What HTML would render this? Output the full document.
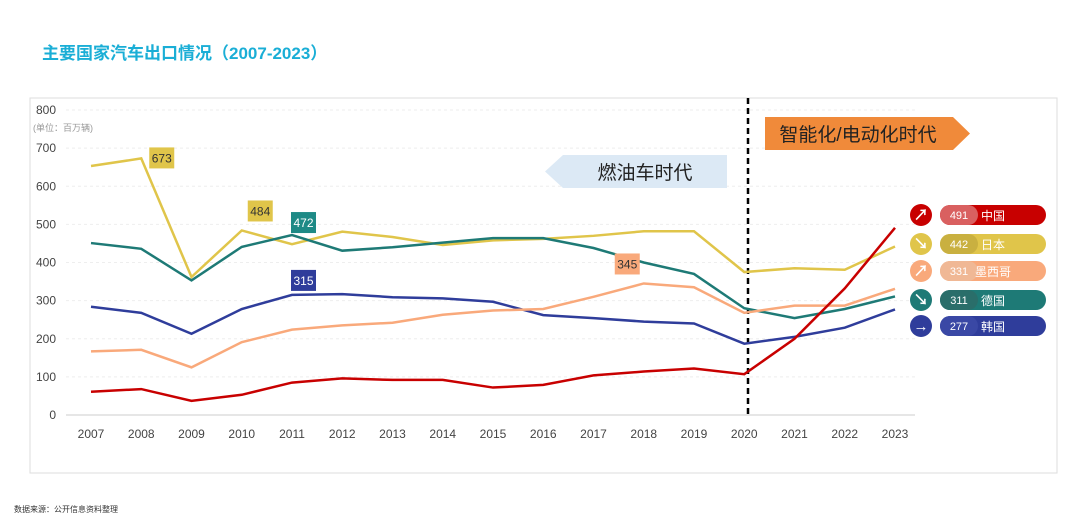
<!DOCTYPE html>
<html><head><meta charset="utf-8"><style>
body{margin:0;background:#fff;font-family:"Liberation Sans","Noto Sans CJK SC",sans-serif}
#wrap{position:relative;width:1080px;height:525px;overflow:hidden}
</style></head><body><div id="wrap">
<div style="position:absolute;left:42px;top:39px;font-size:17px;font-weight:bold;color:#1aaed6">主要国家汽车出口情况（2007-2023）</div>
<div style="position:absolute;left:14px;top:504px;font-size:8px;color:#333">数据来源：公开信息资料整理</div>
<svg id="chart" width="1080" height="525" style="position:absolute;left:0;top:0"></svg>
</div>
<script>
const years=["2007","2008","2009","2010","2011","2012","2013","2014","2015","2016","2017","2018","2019","2020","2021","2022","2023"];
const yTicks=[0,100,200,300,400,500,600,700,800];
const japan=[653,673,362,484,448,481,467,446,458,462,470,482,482,375,385,381,442];
const germany=[451,436,353,441,472,431,440,452,464,464,438,400,370,280,254,278,311];
const korea=[284,268,213,278,315,317,309,306,297,262,254,245,240,187,205,229,277];
const mexico=[167,171,125,191,224,235,242,263,274,278,310,345,335,268,287,287,331];
const china=[61,68,37,53,85,96,92,92,72,79,104,114,122,107,200,332,491];
const seriesNames=["中国","日本","墨西哥","德国","韩国"];
const NS="http://www.w3.org/2000/svg";
const svg=document.getElementById('chart');
const x=i=>91+i*50.25, y=v=>415-v*0.38125;
function el(t,a,p){const e=document.createElementNS(NS,t);for(const k in a)e.setAttribute(k,a[k]);(p||svg).appendChild(e);return e;}
const frame=el('rect',{x:30,y:98,width:1027,height:375,fill:'#fff',stroke:'#ddd'});


yTicks.forEach(t=>{
 const g=el('line',{x1:66,x2:915,y1:y(t),y2:y(t),stroke:t===0?'#ccc':'#eee','stroke-dasharray':t===0?'':'3,3'});
 
 
 const tx=el('text',{x:56,y:y(t)+4,'font-size':12,fill:'#444','text-anchor':'end'});tx.textContent=t;
 
 
});
const unit=el('text',{x:33,y:131,'font-size':9,fill:'#999'});unit.textContent='(单位：百万辆)';


years.forEach((yr,i)=>{const t=el('text',{x:x(i),y:438,'font-size':12,fill:'#444','text-anchor':'middle'});t.textContent=yr;
 
 });
const vl=el('line',{x1:748,x2:748,y1:98,y2:415,stroke:'#000','stroke-width':2.5,'stroke-dasharray':'6,4'});


// banners
const b1=el('polygon',{points:'563,155 727,155 727,188 563,188 545,171.5',fill:'#dce9f5'});


const b1t=el('text',{x:645,y:179,'font-size':19,fill:'#222','text-anchor':'middle'});b1t.textContent='燃油车时代';


const b2=el('polygon',{points:'765,117 953,117 970,133.5 953,150 765,150',fill:'#f08a3a'});


const b2t=el('text',{x:858,y:141,'font-size':19,fill:'#222','text-anchor':'middle'});b2t.textContent='智能化/电动化时代';


const series=[[japan,'#e0c54a','japan'],[germany,'#1e7a76','germany'],[korea,'#2f3d9b','korea'],[mexico,'#f9a97b','mexico'],[china,'#c80000','china']];
series.forEach(([d,c,n])=>{
 const p=el('polyline',{points:d.map((v,i)=>x(i)+','+y(v)).join(' '),fill:'none',stroke:c,'stroke-width':2.5});
 
 
});
function callout(d,i,c,tc,n,dx,dy){
 const cx=x(i)+dx, cy=y(d[i])+dy;
 const r=el('rect',{x:cx-12,y:cy-10,width:25,height:21,fill:c});
 
 
 const t=el('text',{x:cx+0.5,y:cy+5,'font-size':12,fill:tc,'text-anchor':'middle'});t.textContent=d[i];
 
 
}
callout(japan,1,'#e0c54a','#333','japan-2008',20,-1);
callout(japan,3,'#e0c54a','#333','japan-2010',18,-20);
callout(germany,4,'#1e8a86','#fff','germany-2011',11,-13);
callout(korea,4,'#2f3d9b','#fff','korea-2011',11,-15);
callout(mexico,11,'#f9a97b','#333','mexico-2018',-17,-20);
// legend
const lc=[['#c80000','#d96060',china],['#e0c54a','#c9b040',japan],['#f9a97b','#f0b895',mexico],['#1e7a76','#2a6e6a',germany],['#2f3d9b','#3a48a5',korea]];
const ly=[215,244,271,300,326];
lc.forEach(([c,c2,d],k)=>{
 const cy=ly[k];
 const ci=el('circle',{cx:921,cy:cy,r:11,fill:c});
 
 
 const ar=el('text',{x:921,y:cy+5,'font-size':15,fill:'#fff','text-anchor':'middle','font-weight':'bold'});ar.textContent=['↗','↘','↗','↘','→'][k];
 const pill=el('rect',{x:940,y:cy-10,width:106,height:20,rx:10,fill:c});
 
 
 el('rect',{x:940,y:cy-10,width:38,height:20,rx:10,fill:c2});
 const v=el('text',{x:959,y:cy+4,'font-size':11,fill:'#fff','text-anchor':'middle'});v.textContent=d[d.length-1];
 const nm=el('text',{x:993,y:cy+5,'font-size':12,fill:'#fff','text-anchor':'middle'});nm.textContent=seriesNames[k];
 
 
});
</script></body></html>
